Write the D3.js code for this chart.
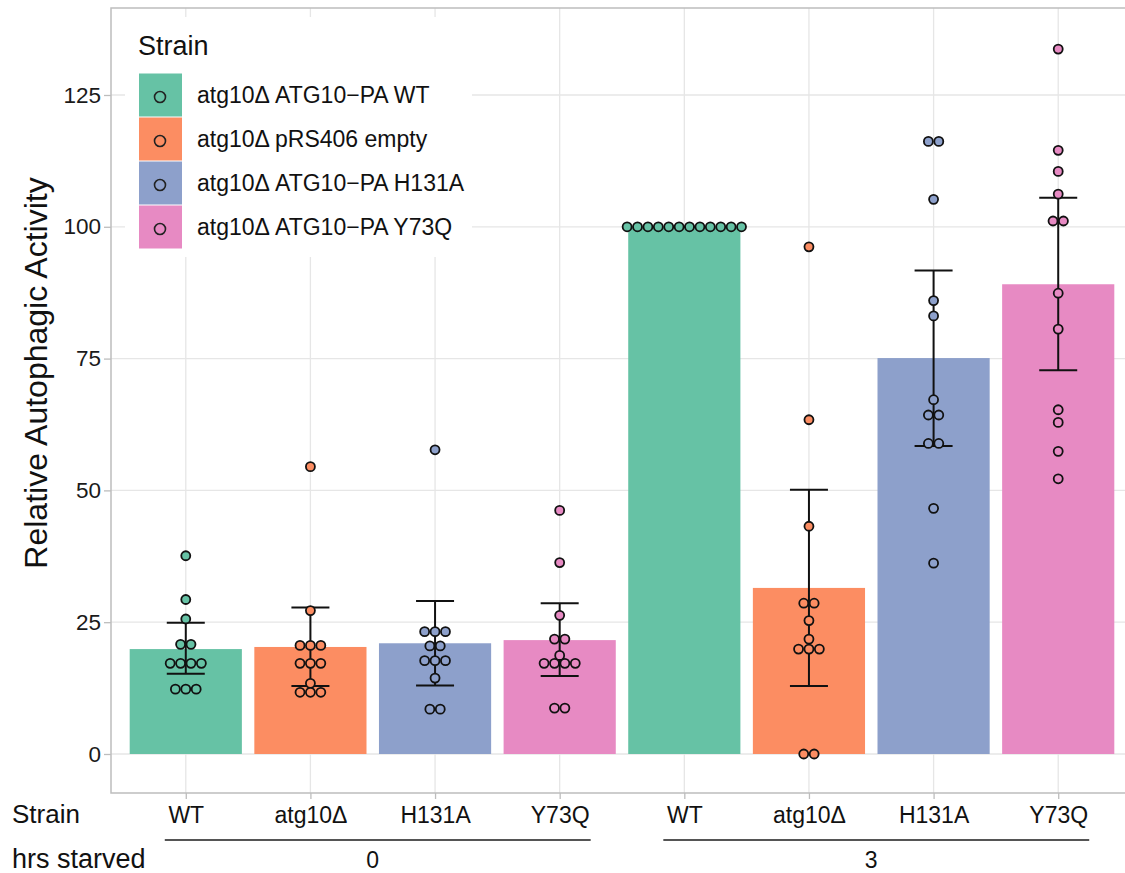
<!DOCTYPE html>
<html>
<head>
<meta charset="utf-8">
<script src="https://cdn.jsdelivr.net/npm/d3@7"></script>
<style>
  html, body { margin: 0; padding: 0; background: #fff; }
  svg { display: block; font-family: "Liberation Sans", Arial, Helvetica, sans-serif; }
</style>
</head>
<body>
<svg id="chart" width="1125" height="873"></svg>
<script>
// ---------------- data ----------------
const strainLabels = ["WT", "atg10Δ", "H131A", "Y73Q"];
const hoursStarved = ["0", "3"];
const legendLabels = [
  "atg10Δ ATG10−PA WT",
  "atg10Δ pRS406 empty",
  "atg10Δ ATG10−PA H131A",
  "atg10Δ ATG10−PA Y73Q"
];
const yTicks = [0, 25, 50, 75, 100, 125];

// bar heights (mean) per group, order: hours 0 (WT, atg10Δ, H131A, Y73Q), hours 3 (same)
const barMeans = [19.9, 20.3, 21.0, 21.6, 100, 31.5, 75.1, 89.1];
const errLower = [15.2, 12.9, 13.0, 14.8, 100, 12.9, 58.4, 72.8];
const errUpper = [24.9, 27.8, 29.0, 28.6, 100, 50.1, 91.7, 105.5];

// individual replicate values (binned dot positions)
const ptsWT0    = [37.6, 29.3, 25.6, 20.8, 20.8, 17.2, 17.2, 17.2, 17.2, 12.3, 12.3, 12.3];
const ptsAtg0   = [54.5, 27.2, 20.6, 20.6, 20.6, 17.2, 17.2, 17.2, 13.4, 11.7, 11.7, 11.7];
const ptsH131A0 = [57.7, 23.2, 23.2, 23.2, 20.5, 20.5, 17.7, 17.7, 17.7, 14.4, 8.5, 8.5];
const ptsY73Q0  = [46.2, 36.3, 26.3, 21.8, 21.8, 18.7, 17.2, 17.2, 17.2, 17.2, 8.7, 8.7];
const ptsWT3    = [100, 100, 100, 100, 100, 100, 100, 100, 100, 100, 100, 100];
const ptsAtg3   = [96.2, 63.4, 43.2, 28.6, 28.6, 25.3, 21.8, 19.9, 19.9, 19.9, 0, 0];
const ptsH131A3 = [116.2, 116.2, 105.2, 86.0, 83.1, 67.2, 64.3, 64.3, 58.9, 58.9, 46.6, 36.2];
const ptsY73Q3  = [133.7, 114.5, 110.5, 106.2, 101.1, 101.1, 87.4, 80.6, 65.3, 62.9, 57.4, 52.2];
const groupPoints = [ptsWT0, ptsAtg0, ptsH131A0, ptsY73Q0, ptsWT3, ptsAtg3, ptsH131A3, ptsY73Q3];

// ---------------- styles ----------------
const palette = ["#66c2a5", "#fc8d62", "#8da0cb", "#e78ac3"];
const FONT = "'Liberation Sans', Arial, Helvetica, sans-serif";

// ---------------- build ----------------
const svg = d3.select("#chart");
const panel = { left: 111, right: 1133, top: 8, bottom: 793 };

const groups = [];
hoursStarved.forEach((h, hi) => strainLabels.forEach((s, si) => {
  const i = hi * strainLabels.length + si;
  groups.push({ key: h + "_" + s, hour: h, strain: s, si, i,
    mean: barMeans[i], lo: errLower[i], hi: errUpper[i], pts: groupPoints[i] });
}));

const x = d3.scalePoint()
  .domain(groups.map(g => g.key))
  .range([panel.left, panel.right])
  .padding(0.6);
const step = x.step();
const barW = step * 0.9;

const y = d3.scaleLinear().domain([-7.4, 141.5]).range([panel.bottom, panel.top]);

const defs = svg.append("defs");
defs.append("clipPath").attr("id", "clip")
  .append("rect").attr("x", panel.left).attr("y", panel.top)
  .attr("width", panel.right - panel.left).attr("height", panel.bottom - panel.top);

const plot = svg.append("g").attr("clip-path", "url(#clip)");

plot.append("rect").attr("x", panel.left).attr("y", panel.top)
  .attr("width", panel.right - panel.left).attr("height", panel.bottom - panel.top)
  .attr("fill", "#fff");

// grid
plot.append("g").selectAll("line").data(yTicks).join("line")
  .attr("x1", panel.left).attr("x2", panel.right)
  .attr("y1", d => y(d)).attr("y2", d => y(d))
  .attr("stroke", "#e6e6e6").attr("stroke-width", 1.3);
plot.append("g").selectAll("line").data(groups).join("line")
  .attr("x1", d => x(d.key)).attr("x2", d => x(d.key))
  .attr("y1", panel.top).attr("y2", panel.bottom)
  .attr("stroke", "#e6e6e6").attr("stroke-width", 1.3);

// legend background (inside panel, covers grid)
const legend = { x: 125, y: 17, w: 347, h: 240 };
svg.append("rect").attr("x", legend.x).attr("y", legend.y)
  .attr("width", legend.w).attr("height", legend.h).attr("fill", "#fff");

// bars
svg.append("g").selectAll("rect").data(groups).join("rect")
  .attr("x", d => x(d.key) - barW / 2)
  .attr("width", barW)
  .attr("y", d => y(d.mean))
  .attr("height", d => y(0) - y(d.mean))
  .attr("fill", d => palette[d.si]);

// error bars
const capHalf = 19;
const errG = svg.append("g").attr("stroke", "#111").attr("stroke-width", 2).attr("fill", "none");
groups.forEach(g => {
  const cx = x(g.key);
  errG.append("line").attr("x1", cx).attr("x2", cx).attr("y1", y(g.lo)).attr("y2", y(g.hi));
  errG.append("line").attr("x1", cx - capHalf).attr("x2", cx + capHalf).attr("y1", y(g.hi)).attr("y2", y(g.hi));
  errG.append("line").attr("x1", cx - capHalf).attr("x2", cx + capHalf).attr("y1", y(g.lo)).attr("y2", y(g.lo));
});

// dots (dotplot, centre stacked)
const dotStep = 10.4;
const dotsG = svg.append("g");
groups.forEach(g => {
  const bins = d3.rollups(g.pts, v => v.length, v => v);
  bins.forEach(([val, n]) => {
    for (let k = 0; k < n; k++) {
      dotsG.append("circle")
        .attr("cx", x(g.key) + (k - (n - 1) / 2) * dotStep)
        .attr("cy", y(val))
        .attr("r", 4.5)
        .attr("fill", palette[g.si])
        .attr("stroke", "#111")
        .attr("stroke-width", 1.8);
    }
  });
});

// panel border
svg.append("rect").attr("x", panel.left).attr("y", panel.top)
  .attr("width", panel.right - panel.left).attr("height", panel.bottom - panel.top)
  .attr("fill", "none").attr("stroke", "#bdbdbd").attr("stroke-width", 1.5);

// y axis
const yAxis = d3.axisLeft(y).tickValues(yTicks).tickSize(7).tickPadding(3);
const yg = svg.append("g").attr("transform", `translate(${panel.left},0)`).call(yAxis);
yg.select(".domain").remove();
yg.selectAll(".tick line").attr("stroke", "#bdbdbd").attr("stroke-width", 1.3);
yg.selectAll(".tick text").attr("font-size", 22.5).attr("fill", "#1a1a1a").attr("font-family", FONT);

// x axis
const xAxis = d3.axisBottom(x).tickSize(6).tickPadding(5).tickFormat(k => groups.find(g => g.key === k).strain);
const xg = svg.append("g").attr("transform", `translate(0,${panel.bottom})`).call(xAxis);
xg.select(".domain").remove();
xg.selectAll(".tick line").attr("stroke", "#bdbdbd").attr("stroke-width", 1.3);
xg.selectAll(".tick text").attr("font-size", 23).attr("fill", "#111").attr("font-family", FONT)
  .attr("dy", null).attr("y", 30);

// x axis row titles
svg.append("text").attr("x", 12).attr("y", 823).attr("font-size", 26).attr("fill", "#111")
  .attr("font-family", FONT).text("Strain");
svg.append("text").attr("x", 12).attr("y", 868).attr("font-size", 27).attr("fill", "#111")
  .attr("font-family", FONT).text("hrs starved");

// hour brackets
hoursStarved.forEach(h => {
  const keys = groups.filter(g => g.hour === h).map(g => x(g.key));
  const x0 = d3.min(keys) - 21, x1 = d3.max(keys) + 31;
  svg.append("line").attr("x1", x0).attr("x2", x1).attr("y1", 840).attr("y2", 840)
    .attr("stroke", "#555").attr("stroke-width", 2);
  svg.append("text").attr("x", (d3.min(keys) + d3.max(keys)) / 2).attr("y", 868)
    .attr("text-anchor", "middle").attr("font-size", 23).attr("fill", "#111")
    .attr("font-family", FONT).text(h);
});

// y title
svg.append("text")
  .attr("transform", `translate(47,373) rotate(-90)`)
  .attr("text-anchor", "middle").attr("font-size", 32).attr("fill", "#111")
  .attr("font-family", FONT).text("Relative Autophagic Activity");

// legend
const lg = svg.append("g");
lg.append("text").attr("x", 138).attr("y", 55).attr("font-size", 27).attr("fill", "#111")
  .attr("font-family", FONT).text("Strain");
legendLabels.forEach((lab, i) => {
  const ky = 73 + i * 44;
  lg.append("rect").attr("x", 139).attr("y", ky + 0.5).attr("width", 43).attr("height", 43)
    .attr("fill", palette[i]);
  lg.append("circle").attr("cx", 160).attr("cy", ky + 24).attr("r", 5.5)
    .attr("fill", "none").attr("stroke", "#222").attr("stroke-width", 1.6);
  lg.append("text").attr("x", 197).attr("y", ky + 22).attr("dy", "0.35em")
    .attr("font-size", 23).attr("fill", "#111").attr("font-family", FONT).text(lab);
});
</script>
</body>
</html>
